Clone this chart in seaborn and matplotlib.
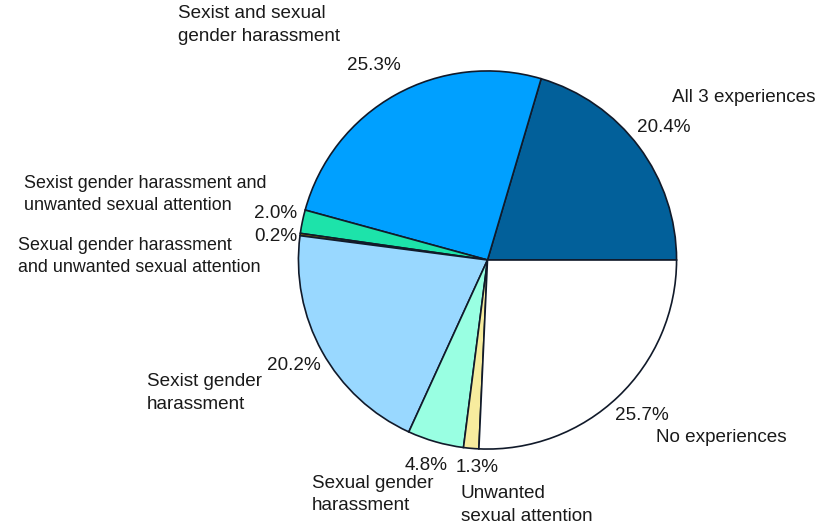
import matplotlib
matplotlib.use("Agg")
import matplotlib.pyplot as plt
import seaborn as sns

labels = ["All 3 experiences", "Sexist and sexual\ngender harassment",
          "Sexist gender harassment and\nunwanted sexual attention",
          "Sexual gender harassment\nand unwanted sexual attention",
          "Sexist gender\nharassment", "Sexual gender\nharassment",
          "Unwanted\nsexual attention", "No experiences"]
values = [20.4, 25.3, 2.0, 0.2, 20.2, 4.8, 1.3, 25.7]
pct_labels = ["20.4%", "25.3%", "2.0%", "0.2%", "20.2%", "4.8%", "1.3%", "25.7%"]
colors = ["#02609a", "#00a0ff", "#1de3aa", "#8a7300", "#99d8ff", "#99ffe2", "#f7ec9e", "#ffffff"]

sns.set_theme(style="white")
plt.rcParams["font.family"] = ["Liberation Sans", "DejaVu Sans"]

W, H = 832, 526
fig = plt.figure(figsize=(W / 100, H / 100), dpi=100)
fig.patch.set_facecolor("white")
cx, cy, r = 487.5, 260, 190
ax = fig.add_axes([(cx - r) / W, (H - cy - r) / H, 2 * r / W, 2 * r / H])
ax.pie(values, colors=colors, startangle=0, counterclock=True, radius=1,
       wedgeprops=dict(edgecolor="#111a2a", linewidth=1.2))
ax.set_xlim(-1.005, 1.005)
ax.set_ylim(-1.005, 1.005)
ax.axis("off")

# label layout in figure pixels (x, y of first line centre, fontsize)
name_pos = [(672, 97, 13.6), (178, 14, 13.6), (24, 183, 12.9), (18, 245, 12.9),
            (147, 382, 13.6), (312, 483, 13.6), (461, 494, 13.6), (656, 437, 13.6)]
pct_pos = [(637, 127), (347, 66), (254, 214), (254, 236),
           (267, 365), (405, 465), (456, 468), (615, 415)]
line_step = 22.5

fs = 13.6
for lab, (x, y, f) in zip(labels, name_pos):
    for i, line in enumerate(lab.split("\n")):
        fig.text(x / W, 1 - (y + i * line_step) / H, line, ha="left", va="center",
                 fontsize=f, color="#1a1a1a")
for lab, (x, y) in zip(pct_labels, pct_pos):
    fig.text(x / W, 1 - y / H, lab, ha="left", va="center", fontsize=fs, color="#1a1a1a")

fig.savefig("out.png", dpi=100, facecolor="white")
